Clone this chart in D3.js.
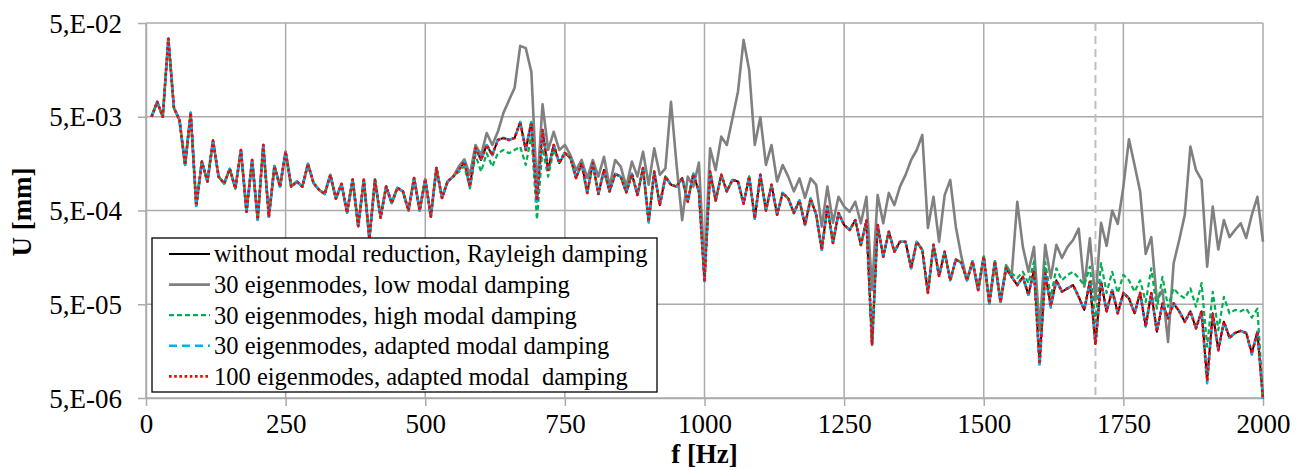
<!DOCTYPE html>
<html><head><meta charset="utf-8">
<script src="https://cdn.jsdelivr.net/npm/d3@7"></script>
<style>
html,body{margin:0;padding:0;background:#fff;}
svg{display:block;}
text{font-family:"Liberation Serif","Times New Roman",serif;fill:#000;}
</style></head><body>
<svg id="chart" width="1302" height="470"></svg>
<script>
// frequency grid [Hz]
const freq = [
10,20,30,40,50,60,70,80,90,100,
110,120,130,140,150,160,170,180,190,200,
210,220,230,240,250,260,270,280,290,300,
310,320,330,340,350,360,370,380,390,400,
410,420,430,440,450,460,470,480,490,500,
510,520,530,540,550,560,570,580,590,600,
610,620,630,640,650,660,670,680,690,700,
710,720,730,740,750,760,770,780,790,800,
810,820,830,840,850,860,870,880,890,900,
910,920,930,940,950,960,970,980,990,1000,
1010,1020,1030,1040,1050,1060,1070,1080,1090,1100,
1110,1120,1130,1140,1150,1160,1170,1180,1190,1200,
1210,1220,1230,1240,1250,1260,1270,1280,1290,1300,
1310,1320,1330,1340,1350,1360,1370,1380,1390,1400,
1410,1420,1430,1440,1450,1460,1470,1480,1490,1500,
1510,1520,1530,1540,1550,1560,1570,1580,1590,1600,
1610,1620,1630,1640,1650,1660,1670,1680,1690,1700,
1710,1720,1730,1740,1750,1760,1770,1780,1790,1800,
1810,1820,1830,1840,1850,1860,1870,1880,1890,1900,
1910,1920,1930,1940,1950,1960,1970,1980,1990,2000];

// U [mm] — without modal reduction, Rayleigh damping
const uRayleigh = [
5.0e-3,7.2e-3,5.0e-3,3.4e-2,6.2e-3,4.6e-3,1.53e-3,5.5e-3,5.6e-4,1.66e-3,
1.02e-3,2.78e-3,1.15e-3,9.7e-4,1.39e-3,8.6e-4,2.21e-3,4.85e-4,1.73e-3,4.0e-4,
2.5e-3,4.3e-4,1.49e-3,9.0e-4,2.12e-3,9.0e-4,1.02e-3,9.0e-4,1.57e-3,9.8e-4,
8.3e-4,7.5e-4,1.2e-3,6.7e-4,9.6e-4,4.75e-4,1.07e-3,3.4e-4,1.06e-3,2.5e-4,
1.06e-3,4.2e-4,9.0e-4,6.0e-4,8.7e-4,8.0e-4,5.0e-4,1.11e-3,5.0e-4,1.08e-3,
4.3e-4,1.42e-3,6.8e-4,1.02e-3,1.15e-3,1.35e-3,1.66e-3,9.0e-4,2.32e-3,1.73e-3,
2.5e-3,1.95e-3,2.83e-3,2.97e-3,2.83e-3,2.97e-3,4.4e-3,2.21e-3,4.4e-3,6.4e-4,
3.6e-3,1.35e-3,2.5e-3,1.6e-3,2.05e-3,1.82e-3,1.11e-3,1.6e-3,7.7e-4,1.6e-3,
7.5e-4,1.35e-3,8.0e-4,1.23e-3,1.15e-3,7.8e-4,1.23e-3,7.3e-4,1.42e-3,3.8e-4,
1.3e-3,5.7e-4,1.15e-3,9.4e-4,9.0e-4,1.11e-3,6.2e-4,1.23e-3,7.9e-4,9.0e-5,
1.3e-3,6.4e-4,1.2e-3,8.0e-4,1.06e-3,1.02e-3,5.9e-4,1.15e-3,4.1e-4,1.2e-3,
5.0e-4,9.4e-4,4.5e-4,7.7e-4,6.7e-4,4.7e-4,6.4e-4,3.5e-4,6.7e-4,4.5e-4,
1.9e-4,5.5e-4,2.25e-4,4.7e-4,3.5e-4,3.1e-4,3.95e-4,2.15e-4,3.9e-4,1.84e-5,
3.5e-4,1.61e-4,2.97e-4,1.82e-4,2.32e-4,2.32e-4,1.21e-4,2.32e-4,1.9e-4,6.6e-5,
2.15e-4,1.0e-4,1.82e-4,9.0e-5,1.5e-4,1.39e-4,9.0e-5,1.43e-4,7.1e-5,1.61e-4,
5.1e-5,1.43e-4,5.3e-5,1.21e-4,9.8e-5,8.0e-5,9.8e-5,6.3e-5,1.16e-4,1.17e-5,
1.07e-4,4.8e-5,9.0e-5,6.8e-5,7.4e-5,8.0e-5,6.0e-5,4.35e-5,8.7e-5,1.9e-5,
8.7e-5,4.2e-5,7.1e-5,4.0e-5,6.6e-5,5.8e-5,4.0e-5,6.6e-5,2.9e-5,6.6e-5,
2.55e-5,5.1e-5,3.55e-5,5.1e-5,4.2e-5,3.25e-5,4.2e-5,2.77e-5,4.2e-5,7.8e-6,
4.0e-5,1.63e-5,3.25e-5,2.2e-5,2.47e-5,2.6e-5,2.47e-5,1.5e-5,2.55e-5,4.9e-6];

// U [mm] — 30 eigenmodes, low modal damping
const uLow = [
5.0e-3,7.2e-3,5.0e-3,3.4e-2,6.2e-3,4.6e-3,1.53e-3,5.5e-3,5.6e-4,1.66e-3,
1.02e-3,2.78e-3,1.15e-3,9.7e-4,1.39e-3,8.6e-4,2.21e-3,4.85e-4,1.73e-3,4.0e-4,
2.5e-3,4.3e-4,1.49e-3,9.0e-4,2.12e-3,9.0e-4,1.02e-3,9.0e-4,1.57e-3,9.8e-4,
8.3e-4,7.5e-4,1.2e-3,6.7e-4,9.6e-4,4.75e-4,1.07e-3,3.4e-4,1.06e-3,2.5e-4,
1.06e-3,4.2e-4,9.0e-4,6.0e-4,8.7e-4,8.0e-4,5.0e-4,1.11e-3,5.0e-4,1.08e-3,
4.3e-4,1.42e-3,6.8e-4,1.02e-3,1.15e-3,1.47e-3,1.76e-3,1.2e-3,2.5e-3,1.95e-3,
3.35e-3,2.5e-3,3.45e-3,5.5e-3,7.5e-3,1.02e-2,2.85e-2,2.7e-2,1.5e-2,8.2e-4,
6.8e-3,2.21e-3,3.45e-3,2.21e-3,2.5e-3,1.95e-3,1.35e-3,1.73e-3,1.11e-3,1.73e-3,
1.15e-3,1.87e-3,9.0e-4,1.73e-3,1.47e-3,9.0e-4,1.66e-3,1.15e-3,2.12e-3,9.4e-4,
2.3e-3,1.2e-3,1.41e-3,7.2e-3,1.53e-3,3.95e-4,1.15e-3,9.0e-4,1.62e-3,1.16e-4,
2.3e-3,1.35e-3,3.07e-3,2.5e-3,4.8e-3,9.3e-3,3.3e-2,1.58e-2,2.5e-3,4.95e-3,
1.53e-3,2.5e-3,1.02e-3,1.53e-3,1.15e-3,8.0e-4,1.1e-3,6.8e-4,1.1e-3,9.4e-4,
3.36e-4,9.0e-4,3.7e-4,7.0e-4,5.5e-4,4.85e-4,6.2e-4,3.65e-4,7.0e-4,7.1e-5,
7.3e-4,3.65e-4,7.7e-4,5.7e-4,9.0e-4,1.2e-3,1.73e-3,2.21e-3,3.2e-3,3.25e-4,
7.0e-4,2.32e-4,7.3e-4,1.06e-3,3.36e-4,1.61e-4,9.0e-5,1.43e-4,7.1e-5,1.61e-4,
5.1e-5,1.43e-4,5.3e-5,1.31e-4,1.03e-4,6.2e-4,2.05e-4,1.11e-4,2.05e-4,2.65e-5,
2.15e-4,9.5e-5,2.15e-4,1.56e-4,2.05e-4,2.42e-4,3.2e-4,7.7e-5,2.52e-4,5.5e-5,
3.7e-4,2.1e-4,5.0e-4,3.6e-4,9.0e-4,2.88e-3,1.53e-3,8.0e-4,1.72e-4,2.6e-4,
5.5e-5,7.1e-5,1.98e-5,1.37e-4,2.42e-4,4.5e-4,2.4e-3,1.35e-3,1.06e-3,1.26e-4,
5.5e-4,1.92e-4,3.95e-4,2.6e-4,3.1e-4,3.65e-4,2.55e-4,4.5e-4,7.0e-4,2.32e-4];

// U [mm] — 30 eigenmodes, high modal damping
const uHigh = [
5.0e-3,7.2e-3,5.0e-3,3.4e-2,6.2e-3,4.6e-3,1.53e-3,5.5e-3,5.6e-4,1.66e-3,
1.02e-3,2.78e-3,1.15e-3,9.7e-4,1.39e-3,8.6e-4,2.21e-3,4.85e-4,1.73e-3,4.0e-4,
2.5e-3,4.3e-4,1.49e-3,9.0e-4,2.12e-3,9.0e-4,1.02e-3,9.0e-4,1.57e-3,9.8e-4,
8.3e-4,7.5e-4,1.2e-3,6.7e-4,9.6e-4,4.75e-4,1.07e-3,3.4e-4,1.06e-3,2.5e-4,
1.06e-3,4.2e-4,9.0e-4,6.0e-4,8.7e-4,8.0e-4,5.0e-4,1.11e-3,5.0e-4,1.08e-3,
4.3e-4,1.42e-3,6.8e-4,1.02e-3,1.15e-3,1.29e-3,1.49e-3,8.6e-4,1.95e-3,1.3e-3,
2.04e-3,1.47e-3,2.04e-3,2.21e-3,2.04e-3,2.21e-3,2.4e-3,1.53e-3,3.2e-3,4.0e-4,
2.3e-3,1.15e-3,2.21e-3,1.66e-3,2.1e-3,1.82e-3,1.11e-3,1.6e-3,7.7e-4,1.6e-3,
7.5e-4,1.35e-3,8.0e-4,1.23e-3,1.15e-3,7.8e-4,1.23e-3,7.3e-4,1.42e-3,3.7e-4,
1.3e-3,5.7e-4,1.15e-3,9.4e-4,9.0e-4,1.11e-3,6.2e-4,1.23e-3,7.9e-4,9.0e-5,
1.3e-3,6.4e-4,1.2e-3,8.0e-4,1.06e-3,1.02e-3,5.9e-4,1.15e-3,4.1e-4,1.2e-3,
5.0e-4,9.4e-4,4.5e-4,7.7e-4,6.7e-4,4.7e-4,6.4e-4,3.5e-4,6.7e-4,4.5e-4,
1.9e-4,5.5e-4,2.25e-4,4.7e-4,3.5e-4,3.1e-4,3.95e-4,2.15e-4,3.9e-4,1.84e-5,
3.5e-4,1.61e-4,2.97e-4,1.82e-4,2.32e-4,2.32e-4,1.21e-4,2.32e-4,1.9e-4,6.6e-5,
2.15e-4,1.0e-4,1.82e-4,9.0e-5,1.5e-4,1.39e-4,9.0e-5,1.43e-4,7.1e-5,1.61e-4,
5.1e-5,1.43e-4,5.3e-5,1.26e-4,1.07e-4,9.5e-5,1.11e-4,8.4e-5,1.43e-4,1.38e-5,
1.41e-4,6.0e-5,1.21e-4,9.0e-5,1.03e-4,1.11e-4,9.5e-5,8.0e-5,1.26e-4,3.25e-5,
1.37e-4,6.6e-5,1.11e-4,6.6e-5,1.03e-4,9.0e-5,6.8e-5,9.0e-5,5.3e-5,1.21e-4,
4.5e-5,9.8e-5,4.7e-5,7.4e-5,6.3e-5,5.8e-5,7.4e-5,4.7e-5,8.4e-5,1.77e-5,
6.8e-5,2.65e-5,6.0e-5,4.0e-5,4.35e-5,4.2e-5,4.5e-5,3.6e-5,4.5e-5,5.0e-6];

// U [mm] — 30 eigenmodes, adapted modal damping
const uAdapted30 = [
5.0e-3,7.2e-3,5.0e-3,3.4e-2,6.2e-3,4.6e-3,1.53e-3,5.5e-3,5.6e-4,1.66e-3,
1.02e-3,2.78e-3,1.15e-3,9.7e-4,1.39e-3,8.6e-4,2.21e-3,4.85e-4,1.73e-3,4.0e-4,
2.5e-3,4.3e-4,1.49e-3,9.0e-4,2.12e-3,9.0e-4,1.02e-3,9.0e-4,1.57e-3,9.8e-4,
8.3e-4,7.5e-4,1.2e-3,6.7e-4,9.6e-4,4.75e-4,1.07e-3,3.4e-4,1.06e-3,2.45e-4,
1.06e-3,4.2e-4,9.0e-4,6.0e-4,8.7e-4,8.0e-4,5.0e-4,1.11e-3,5.0e-4,1.08e-3,
4.3e-4,1.42e-3,6.8e-4,1.02e-3,1.15e-3,1.35e-3,1.66e-3,9.0e-4,2.32e-3,1.73e-3,
2.5e-3,1.95e-3,2.83e-3,2.97e-3,2.83e-3,2.97e-3,4.4e-3,2.21e-3,4.4e-3,6.2e-4,
3.6e-3,1.35e-3,2.5e-3,1.6e-3,2.05e-3,1.82e-3,1.11e-3,1.6e-3,7.7e-4,1.6e-3,
7.5e-4,1.35e-3,8.0e-4,1.23e-3,1.15e-3,7.8e-4,1.23e-3,7.3e-4,1.42e-3,3.8e-4,
1.3e-3,5.7e-4,1.15e-3,9.4e-4,9.0e-4,1.11e-3,6.2e-4,1.23e-3,7.9e-4,8.8e-5,
1.3e-3,6.4e-4,1.2e-3,8.0e-4,1.06e-3,1.02e-3,5.9e-4,1.15e-3,4.1e-4,1.2e-3,
5.0e-4,9.4e-4,4.5e-4,7.7e-4,6.7e-4,4.7e-4,6.4e-4,3.5e-4,6.7e-4,4.5e-4,
1.9e-4,5.5e-4,2.25e-4,4.7e-4,3.5e-4,3.1e-4,3.95e-4,2.15e-4,3.9e-4,1.8e-5,
3.5e-4,1.61e-4,2.97e-4,1.82e-4,2.32e-4,2.32e-4,1.21e-4,2.32e-4,1.9e-4,6.6e-5,
2.15e-4,1.0e-4,1.82e-4,9.0e-5,1.5e-4,1.39e-4,9.0e-5,1.43e-4,7.1e-5,1.61e-4,
5.1e-5,1.43e-4,5.3e-5,1.21e-4,9.8e-5,8.0e-5,9.8e-5,6.3e-5,1.16e-4,1.08e-5,
1.07e-4,4.6e-5,9.0e-5,6.8e-5,7.4e-5,8.0e-5,6.0e-5,4.35e-5,8.7e-5,1.9e-5,
8.7e-5,4.2e-5,7.1e-5,4.0e-5,6.6e-5,5.8e-5,4.0e-5,6.6e-5,2.9e-5,6.6e-5,
2.55e-5,5.1e-5,3.55e-5,5.1e-5,4.2e-5,3.25e-5,4.2e-5,2.77e-5,4.2e-5,7.2e-6,
4.0e-5,1.6e-5,3.25e-5,2.2e-5,2.47e-5,2.6e-5,2.47e-5,1.45e-5,2.55e-5,4.9e-6];

// U [mm] — 100 eigenmodes, adapted modal damping
const uAdapted100 = [
5.0e-3,7.2e-3,5.0e-3,3.4e-2,6.2e-3,4.6e-3,1.53e-3,5.5e-3,5.6e-4,1.66e-3,
1.02e-3,2.78e-3,1.15e-3,9.7e-4,1.39e-3,8.6e-4,2.21e-3,4.85e-4,1.73e-3,4.0e-4,
2.5e-3,4.3e-4,1.49e-3,9.0e-4,2.12e-3,9.0e-4,1.02e-3,9.0e-4,1.57e-3,9.8e-4,
8.3e-4,7.5e-4,1.2e-3,6.7e-4,9.6e-4,4.75e-4,1.07e-3,3.4e-4,1.06e-3,2.5e-4,
1.06e-3,4.2e-4,9.0e-4,6.0e-4,8.7e-4,8.0e-4,5.0e-4,1.11e-3,5.0e-4,1.08e-3,
4.3e-4,1.42e-3,6.8e-4,1.02e-3,1.15e-3,1.35e-3,1.66e-3,9.0e-4,2.32e-3,1.73e-3,
2.5e-3,1.95e-3,2.83e-3,2.97e-3,2.83e-3,2.97e-3,4.4e-3,2.21e-3,4.4e-3,6.4e-4,
3.6e-3,1.35e-3,2.5e-3,1.6e-3,2.05e-3,1.82e-3,1.11e-3,1.6e-3,7.7e-4,1.6e-3,
7.5e-4,1.35e-3,8.0e-4,1.23e-3,1.15e-3,7.8e-4,1.23e-3,7.3e-4,1.42e-3,3.8e-4,
1.3e-3,5.7e-4,1.15e-3,9.4e-4,9.0e-4,1.11e-3,6.2e-4,1.23e-3,7.9e-4,9.0e-5,
1.3e-3,6.4e-4,1.2e-3,8.0e-4,1.06e-3,1.02e-3,5.9e-4,1.15e-3,4.1e-4,1.2e-3,
5.0e-4,9.4e-4,4.5e-4,7.7e-4,6.7e-4,4.7e-4,6.4e-4,3.5e-4,6.7e-4,4.5e-4,
1.9e-4,5.5e-4,2.25e-4,4.7e-4,3.5e-4,3.1e-4,3.95e-4,2.15e-4,3.9e-4,1.84e-5,
3.5e-4,1.61e-4,2.97e-4,1.82e-4,2.32e-4,2.32e-4,1.21e-4,2.32e-4,1.9e-4,6.6e-5,
2.15e-4,1.0e-4,1.82e-4,9.0e-5,1.5e-4,1.39e-4,9.0e-5,1.43e-4,7.1e-5,1.61e-4,
5.1e-5,1.43e-4,5.3e-5,1.21e-4,9.8e-5,8.0e-5,9.8e-5,6.3e-5,1.16e-4,1.15e-5,
1.07e-4,4.8e-5,9.0e-5,6.8e-5,7.4e-5,8.0e-5,6.0e-5,4.35e-5,8.7e-5,1.85e-5,
8.7e-5,4.2e-5,7.1e-5,4.0e-5,6.6e-5,5.8e-5,4.0e-5,6.6e-5,2.9e-5,6.6e-5,
2.55e-5,5.1e-5,3.55e-5,5.1e-5,4.2e-5,3.25e-5,4.2e-5,2.77e-5,4.2e-5,7.6e-6,
4.0e-5,1.63e-5,3.25e-5,2.2e-5,2.47e-5,2.6e-5,2.47e-5,1.5e-5,2.55e-5,4.8e-6];

const xTicks = [0,250,500,750,1000,1250,1500,1750,2000];
const yTicks = [5e-6,5e-5,5e-4,5e-3,5e-2];
const yTickLabels = ["5,E-06","5,E-05","5,E-04","5,E-03","5,E-02"];
const markerFreq = [1700];
const seriesNames = [
  "without modal reduction, Rayleigh damping",
  "30 eigenmodes, low modal damping",
  "30 eigenmodes, high modal damping",
  "30 eigenmodes, adapted modal damping",
  "100 eigenmodes, adapted modal  damping"];

const seriesStyle = [
  {data:uRayleigh,  color:"#000000", width:2,   dash:null},
  {data:uLow,       color:"#808080", width:2.6, dash:null},
  {data:uHigh,      color:"#00b050", width:2.2, dash:"5,3"},
  {data:uAdapted30, color:"#00b0f0", width:2.6, dash:"8,5"},
  {data:uAdapted100,color:"#ff0000", width:2.6, dash:"2.6,2.6"}
];

const W = 1302, H = 470;
const L = 146, R = 1263, T = 23, B = 398;
const gridColor = "#ababab";

const svg = d3.select("#chart");
const x = d3.scaleLinear().domain([0,2000]).range([L,R]);
const y = d3.scaleLog().domain([5e-6,5e-2]).range([B,T]);

// grid
const grid = svg.append("g");
grid.selectAll("line.v").data(xTicks).enter().append("line")
  .attr("x1",d=>x(d)).attr("x2",d=>x(d)).attr("y1",T).attr("y2",B)
  .attr("stroke",gridColor).attr("stroke-width",1.5);
grid.selectAll("line.h").data(yTicks).enter().append("line")
  .attr("x1",L).attr("x2",R).attr("y1",d=>y(d)).attr("y2",d=>y(d))
  .attr("stroke",gridColor).attr("stroke-width",1.5);

// axes
const yAxis = d3.axisLeft(y).tickValues(yTicks)
  .tickFormat((d,i)=>yTickLabels[i]).tickSize(8).tickSizeOuter(0).tickPadding(16);
const gy = svg.append("g").attr("transform",`translate(${L},0)`).call(yAxis);
gy.select(".domain").attr("stroke",gridColor).attr("stroke-width",1.5);
gy.selectAll(".tick line").attr("stroke",gridColor).attr("stroke-width",1.5);
gy.selectAll(".tick text").attr("font-family",'"Liberation Serif","Times New Roman",serif')
  .attr("font-size",27).attr("fill","#000").attr("dy","0.34em");

const xAxis = d3.axisBottom(x).tickValues(xTicks).tickFormat(d=>String(d))
  .tickSize(8).tickSizeOuter(0);
const gx = svg.append("g").attr("transform",`translate(0,${B})`).call(xAxis);
gx.select(".domain").attr("stroke",gridColor).attr("stroke-width",1.5);
gx.selectAll(".tick line").attr("stroke",gridColor).attr("stroke-width",1.5);
gx.selectAll(".tick text").attr("font-family",'"Liberation Serif","Times New Roman",serif')
  .attr("font-size",27).attr("fill","#000").attr("dy",null).attr("y",35);

// marker line at 1700 Hz
svg.selectAll("line.marker").data(markerFreq).enter().append("line")
  .attr("x1",d=>x(d)).attr("x2",d=>x(d)).attr("y1",T).attr("y2",B)
  .attr("stroke","#c0c0c0").attr("stroke-width",2).attr("stroke-dasharray","8,5");

// series
const line = d3.line().x((d,i)=>x(freq[i])).y(d=>y(d));
seriesStyle.forEach(s=>{
  svg.append("path").datum(s.data).attr("d",line)
    .attr("fill","none").attr("stroke",s.color).attr("stroke-width",s.width)
    .attr("stroke-linejoin","round")
    .attr("stroke-dasharray",s.dash);
});

// axis titles
svg.append("text").attr("transform","translate(31,212) rotate(-90)")
  .attr("text-anchor","middle").attr("font-size",27).attr("font-weight","bold")
  .text("U [mm]");
svg.append("text").attr("x",(L+R)/2).attr("y",463)
  .attr("text-anchor","middle").attr("font-size",27).attr("font-weight","bold")
  .text("f [Hz]");

// legend
const lg = svg.append("g");
lg.append("rect").attr("x",152).attr("y",238).attr("width",505).attr("height",154)
  .attr("fill","#fff").attr("stroke","#000").attr("stroke-width",1.3);
const rowY = d3.range(seriesNames.length).map(i=>254+i*30.6);
seriesStyle.forEach((s,i)=>{
  lg.append("line").attr("x1",169).attr("x2",210).attr("y1",rowY[i]).attr("y2",rowY[i])
    .attr("stroke",s.color).attr("stroke-width",s.width).attr("stroke-dasharray",s.dash);
  lg.append("text").attr("x",214).attr("y",rowY[i]+8.3)
    .attr("font-size",24.5).style("white-space","pre").text(seriesNames[i]);
});
</script>
</body></html>
